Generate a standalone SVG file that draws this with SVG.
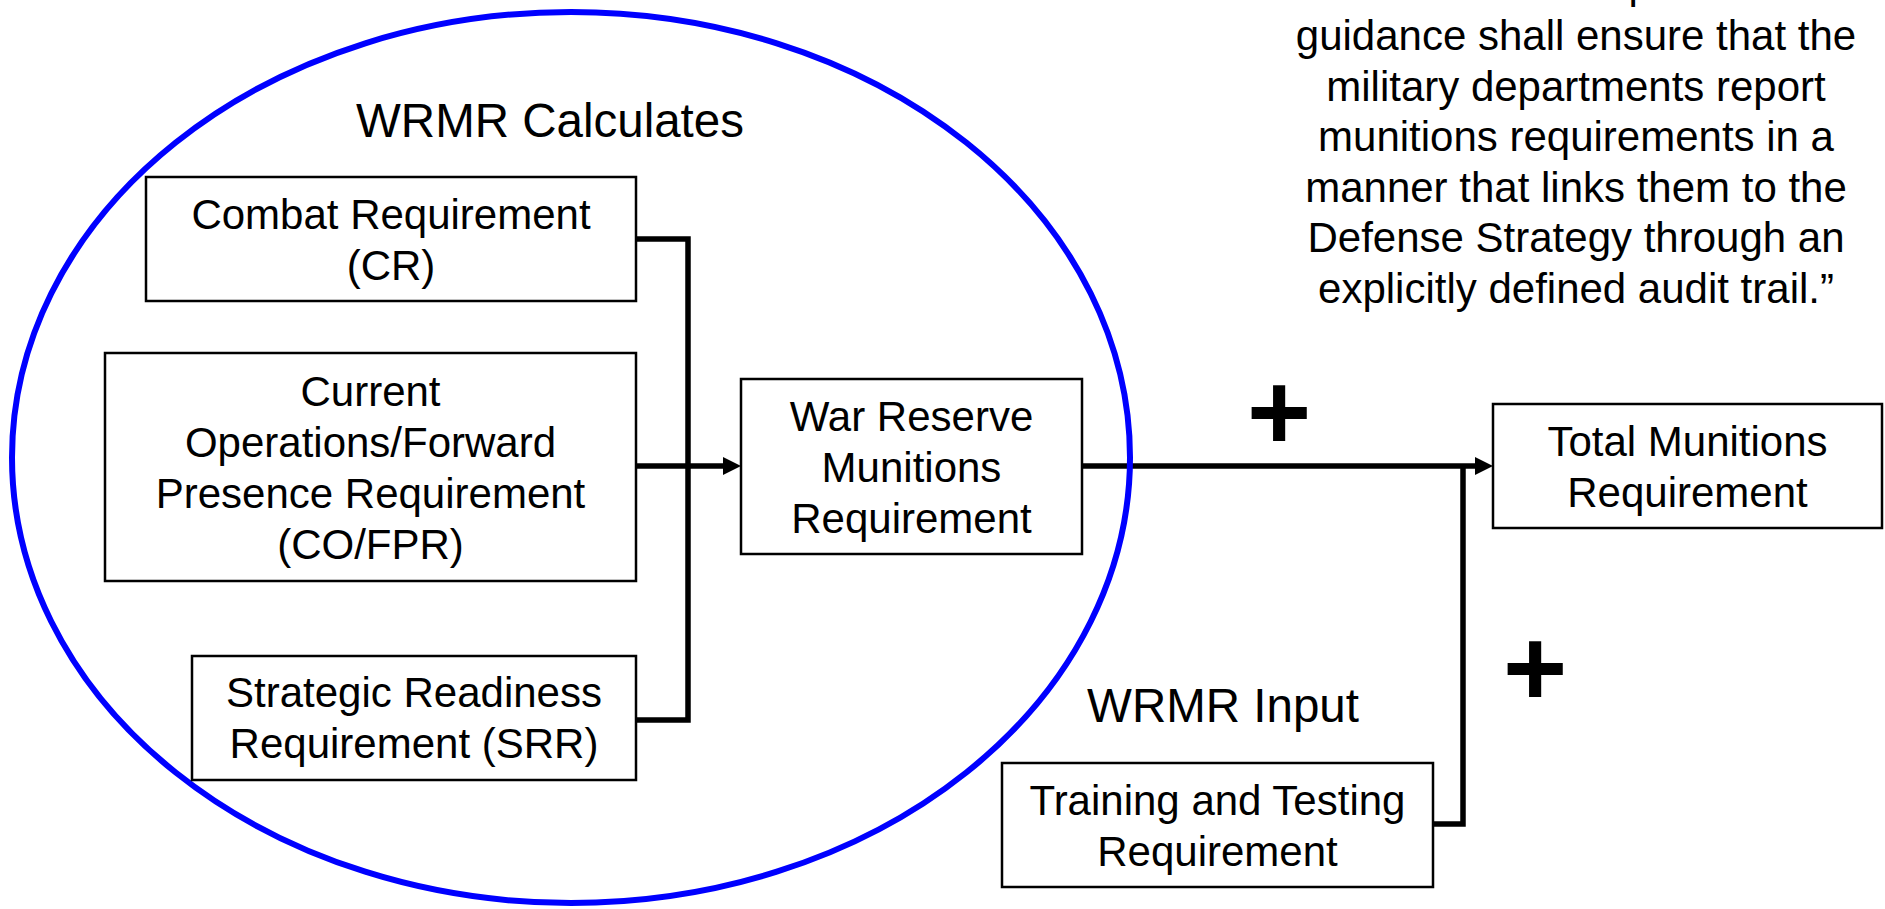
<svg xmlns="http://www.w3.org/2000/svg" width="1885" height="909" viewBox="0 0 1885 909">
  <style>
    .box { fill: #ffffff; stroke: #000000; stroke-width: 2.5; }
    .t { font-family: "Liberation Sans", Arial, sans-serif; font-size: 42px; fill: #000000; text-anchor: middle; }
    .big { font-size: 47.5px; }
    .plus { font-family: "Liberation Sans", Arial, sans-serif; font-size: 110px; font-weight: bold; fill: #000000; text-anchor: middle; }
    .conn { fill: none; stroke: #000000; stroke-width: 5.5; stroke-linejoin: miter; stroke-linecap: butt; }
  </style>
  <defs>
    <marker id="arrow" markerUnits="userSpaceOnUse" markerWidth="18" markerHeight="18" refX="12" refY="9" orient="auto">
      <path d="M0,0 L18,9 L0,18 Z" fill="#000000"/>
    </marker>
  </defs>
  <rect x="0" y="0" width="1885" height="909" fill="#ffffff"/>

  <g id="connectors">
    <path class="conn" d="M636,239 H688 V720 H636"/>
    <path class="conn" d="M636,466 H735" marker-end="url(#arrow)"/>
    <path class="conn" d="M1082,466 H1487" marker-end="url(#arrow)"/>
    <path class="conn" d="M1433,824 H1463 V466"/>
  </g>

  <g id="wrmr-calculates">
    <ellipse cx="571" cy="457.5" rx="559" ry="445.5" fill="none" stroke="#0000ff" stroke-width="6"/>
    <text class="t big" x="550" y="137">WRMR Calculates</text>
  </g>

  <g id="combat">
    <rect class="box" x="146" y="177" width="490" height="124"/>
    <text class="t" x="391" y="228.5">Combat Requirement</text>
    <text class="t" x="391" y="279.5">(CR)</text>
  </g>

  <g id="cofpr">
    <rect class="box" x="105" y="353" width="531" height="228"/>
    <text class="t" x="370.5" y="405.5">Current</text>
    <text class="t" x="370.5" y="456.5">Operations/Forward</text>
    <text class="t" x="370.5" y="507.5">Presence Requirement</text>
    <text class="t" x="370.5" y="558.5">(CO/FPR)</text>
  </g>

  <g id="srr">
    <rect class="box" x="192" y="656" width="444" height="124"/>
    <text class="t" x="414" y="707">Strategic Readiness</text>
    <text class="t" x="414" y="758">Requirement (SRR)</text>
  </g>

  <g id="wrmr">
    <rect class="box" x="741" y="379" width="341" height="175"/>
    <text class="t" x="911.5" y="431">War Reserve</text>
    <text class="t" x="911.5" y="482">Munitions</text>
    <text class="t" x="911.5" y="533">Requirement</text>
  </g>

  <g id="total">
    <rect class="box" x="1493" y="404" width="389" height="124"/>
    <text class="t" x="1687.5" y="455.5">Total Munitions</text>
    <text class="t" x="1687.5" y="506.5">Requirement</text>
  </g>

  <g id="wrmr-input">
    <text class="t big" x="1223" y="722">WRMR Input</text>
  </g>

  <g id="training">
    <rect class="box" x="1002" y="763" width="431" height="124"/>
    <text class="t" x="1217.5" y="814.5">Training and Testing</text>
    <text class="t" x="1217.5" y="865.5">Requirement</text>
  </g>

  <g id="plus-signs">
    <text class="plus" x="1279" y="450">+</text>
    <text class="plus" x="1535" y="706">+</text>
  </g>

  <g id="quote">
    <text class="t" x="1628.5" y="-2" style="text-anchor:start">p</text>
    <text class="t" x="1576" y="50">guidance shall ensure that the</text>
    <text class="t" x="1576" y="100.5">military departments report</text>
    <text class="t" x="1576" y="151">munitions requirements in a</text>
    <text class="t" x="1576" y="201.5">manner that links them to the</text>
    <text class="t" x="1576" y="252">Defense Strategy through an</text>
    <text class="t" x="1576" y="302.5">explicitly defined audit trail.”</text>
  </g>
</svg>
